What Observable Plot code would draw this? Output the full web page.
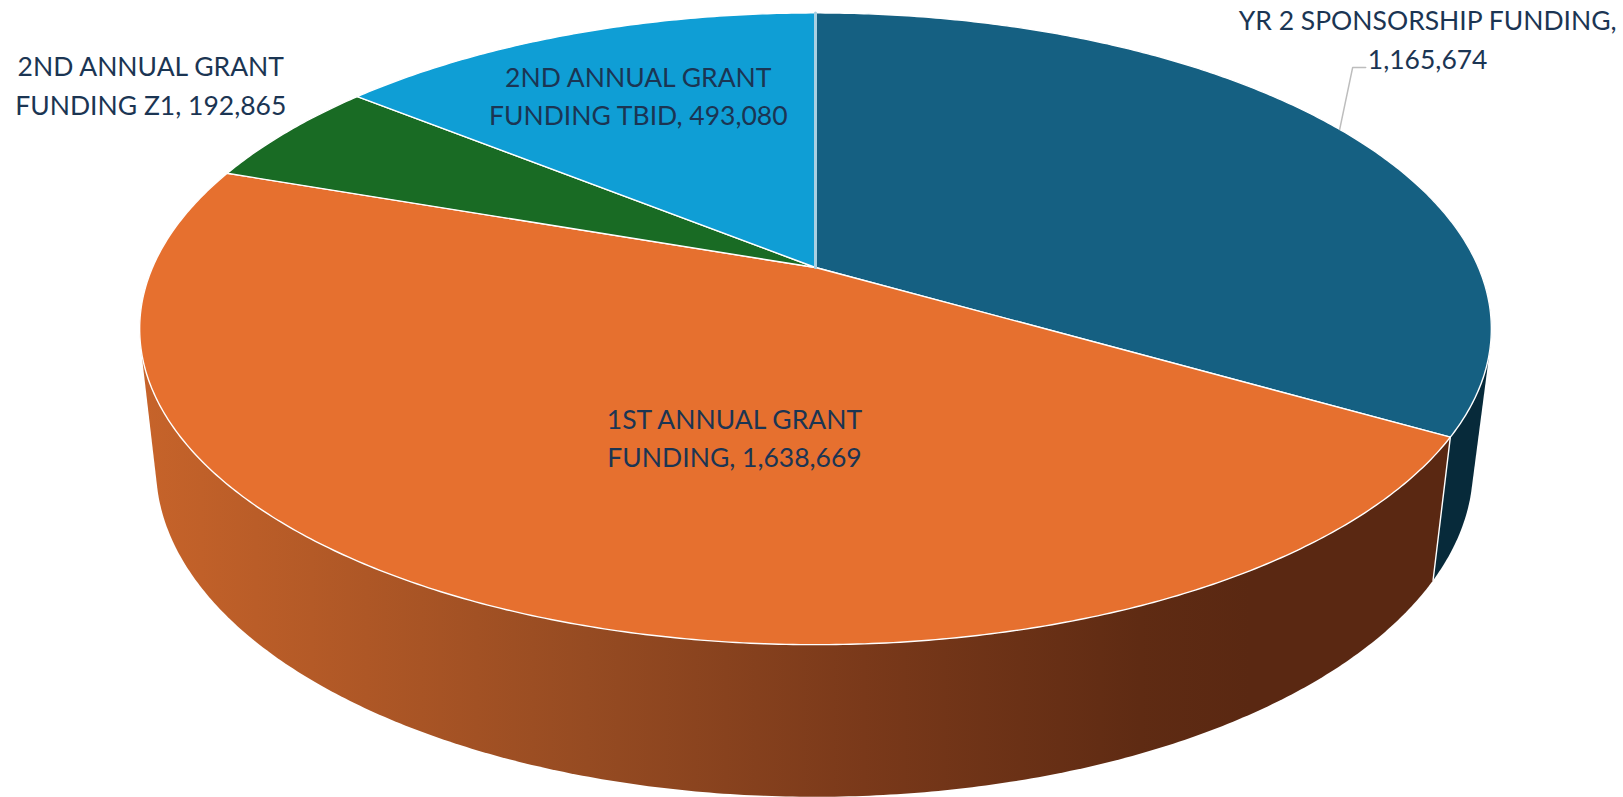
<!DOCTYPE html>
<html>
<head>
<meta charset="utf-8">
<script src="https://cdn.jsdelivr.net/npm/d3@7"></script>
<script src="https://cdn.jsdelivr.net/npm/@observablehq/plot@0.6"></script>
<style>
  html, body { margin: 0; background: #fff; }
  svg { display: block; }
</style>
</head>
<body>
<div id="chart"></div>
<script>
// Funding sources, clockwise from twelve o'clock
const sources = ["YR 2 SPONSORSHIP FUNDING", "1ST ANNUAL GRANT FUNDING", "2ND ANNUAL GRANT FUNDING Z1", "2ND ANNUAL GRANT FUNDING TBID"];
const amounts = [1165674, 1638669, 192865, 493080];
const labelLines = [
  ["YR 2 SPONSORSHIP FUNDING,"],
  ["1ST ANNUAL GRANT", "FUNDING,"],
  ["2ND ANNUAL GRANT", "FUNDING Z1,"],
  ["2ND ANNUAL GRANT", "FUNDING TBID,"]
];
const topColors = ["#156082", "#E6702F", "#196B24", "#0F9ED5"];
const wallColors = ["#072A3A", "url(#orange-wall)", null, null];

// Where each label sits relative to the rim point at its slice's middle angle
const labelRadius = [1, 0.55, 1, 0.62];
const labelShift = [[88, -92], [88, 0], [-136, -49], [-18, -20]];

// Perspective of the disc: top face and bottom rim of the cylinder
const tilt = 0.194;
const topFace = {cx: 815, cy: 267, a: 663, b: 304};
const bottomFace = {cx: 814, cy: 403, a: 646, b: 317};

const total = d3.sum(amounts);
const fmt = d3.format(",");

function project(face, degrees, r = 1) {
  const t = degrees * Math.PI / 180;
  const across = r * Math.sin(t);
  const depth = -r * Math.cos(t);
  const w = 1 - tilt * depth;
  return {x: face.cx + face.a * across / w, y: face.cy + face.b * depth / w};
}

function rim(face, from, to) {
  const steps = Math.max(2, Math.ceil(Math.abs(to - from) * 2));
  return d3.range(steps + 1).map((i) => project(face, from + (to - from) * i / steps));
}

// Cumulative angles from the amounts
let running = 0;
const slices = amounts.map((value, i) => {
  const start = running / total * 360;
  running += value;
  const end = running / total * 360;
  return {source: sources[i], value, start, end, mid: (start + end) / 2, i};
});

const apex = project(topFace, 0, 0);
const facePolygon = (s) => [apex, ...rim(topFace, s.start, s.end)];

// Side wall: hull of both rims, so the silhouette picks up the tangent edges
function wallPolygon(from, to) {
  const pts = [...rim(topFace, from, to), ...rim(bottomFace, from, to)];
  return d3.polygonHull(pts.map((p) => [p.x, p.y])).map(([x, y]) => ({x, y}));
}

const seamAngle = slices[0].end;
const labels = slices.map((s, i) => {
  const p = project(topFace, s.mid, labelRadius[i]);
  const lines = labelLines[i].slice();
  const last = lines.pop();
  const text = i === 0
    ? `${last}\n${fmt(s.value)}`
    : `${lines.join("\n")}\n${last} ${fmt(s.value)}`;
  return {x: p.x + labelShift[i][0], y: p.y + labelShift[i][1], text};
});

// Leader from the sponsorship label down to the rim of its slice
const leaderEnd = project(topFace, slices[0].mid);
const leader = [
  leaderEnd,
  {x: leaderEnd.x + 13, y: leaderEnd.y - 62},
  {x: leaderEnd.x + 26, y: leaderEnd.y - 62}
];

const closedShape = (points, options) =>
  Plot.line(points, {x: "x", y: "y", curve: "linear-closed", ...options});

function wallGradient() {
  const defs = d3.create("svg:defs");
  const g = defs.append("linearGradient")
    .attr("id", "orange-wall")
    .attr("gradientUnits", "userSpaceOnUse")
    .attr("x1", 145).attr("x2", 1250).attr("y1", 0).attr("y2", 0);
  [[0, "#C6632A"], [0.4, "#964B22"], [0.65, "#7A391A"], [0.9, "#5F2B13"], [1, "#5A2812"]]
    .forEach(([o, c]) => g.append("stop").attr("offset", o).attr("stop-color", c));
  return defs.node();
}

const chart = Plot.plot({
  width: 1623,
  height: 797,
  margin: 0,
  x: {domain: [0, 1623], range: [0, 1623], axis: null},
  y: {domain: [0, 797], range: [0, 797], axis: null},
  marks: [
    wallGradient,
    ...slices
      .filter((s) => wallColors[s.i])
      .map((s) => closedShape(
        s.i === 0 ? wallPolygon(75, s.end) : wallPolygon(s.start, s.end),
        {fill: wallColors[s.i], stroke: "none"}
      )),
    Plot.line([project(topFace, seamAngle), project(bottomFace, seamAngle)], {
      x: "x", y: "y", stroke: "#fff", strokeWidth: 1.4
    }),
    ...slices.map((s) => closedShape(facePolygon(s), {
      fill: topColors[s.i], stroke: "#fff", strokeWidth: 1.4, strokeLinejoin: "round"
    })),
    // The seam at twelve o'clock reads as a wider, paler line
    Plot.line([apex, project(topFace, 0)], {
      x: "x", y: "y", stroke: "#A9D0E2", strokeWidth: 3
    }),
    Plot.line(leader, {x: "x", y: "y", stroke: "#BDBDBD", strokeWidth: 1.5}),
    Plot.text(labels, {
      x: "x", y: "y", text: "text",
      fill: "#1B3553",
      fontFamily: "Lato",
      fontSize: 26.5,
      lineHeight: 1.45,
      textAnchor: "middle"
    })
  ]
});

document.getElementById("chart").append(chart);
</script>
</body>
</html>
